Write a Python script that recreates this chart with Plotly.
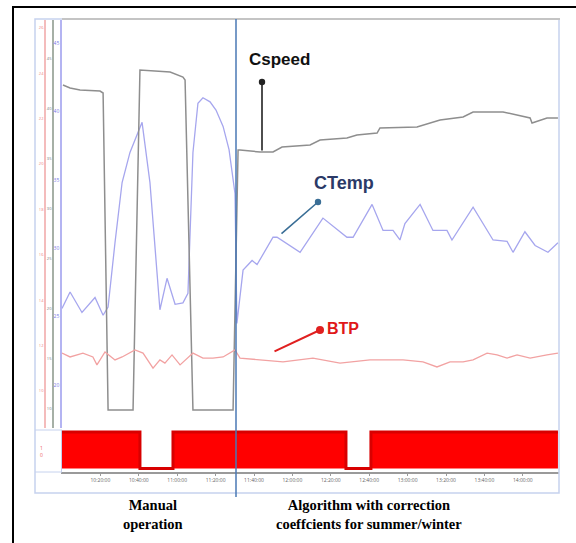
import plotly.graph_objects as go

# ---------------- data (time in minutes from start) ----------------
cspeed_t = [0.5, 4.2, 9.4, 19.8, 21.4, 24.0, 37.0, 40.6, 56.3, 59.9, 63.0, 64.1, 68.2, 89.1,
            91.7, 92.7, 103.1, 109.9, 114.6, 129.2, 134.4, 148.4, 153.6, 164.1, 165.6, 184.9,
            196.9, 208.9, 214.1, 229.7, 238.5, 243.8, 244.8, 252.6, 258.3]
cspeed_v = [42.4, 42.1, 41.9, 41.8, 41.6, 9.9, 9.9, 43.9, 43.7, 43.4, 43.2, 42.9, 9.9, 9.9,
            35.9, 35.9, 35.7, 35.7, 36.2, 36.4, 36.9, 37.1, 37.4, 37.6, 38.1, 38.2,
            38.9, 39.2, 39.7, 39.7, 39.3, 39.1, 38.6, 39.1, 39.1]

ctemp_t = [0, 4.2, 10.4, 13.0, 17.2, 21.4, 24.0, 27.6, 31.3, 35.4, 41.7, 45.8, 51.0, 54.7,
           58.9, 63.0, 65.6, 68.2, 70.8, 73.4, 77.1, 80.2, 83.9, 87.0, 90.1, 91.1, 94.3, 99.0,
           101.6, 109.9, 112.0, 124.0, 135.9, 148.4, 151.6, 161.5, 167.2, 172.4, 176.0,
           178.6, 186.5, 193.2, 200.5, 203.1, 214.1, 224.5, 231.8, 234.9, 241.1, 246.4,
           253.1, 258.3]
ctemp_v = [25.6, 26.8, 25.3, 25.7, 26.4, 25.1, 25.7, 30.4, 34.8, 37.0, 39.2, 34.8, 25.5, 27.8,
           25.9, 26.0, 26.7, 37.0, 40.6, 41.0, 40.7, 40.1, 38.9, 37.2, 34.0, 24.5, 28.4, 29.1,
           28.8, 30.8, 30.8, 29.7, 32.2, 30.8, 30.8, 33.2, 31.3, 31.3, 30.6,
           31.8, 33.2, 31.3, 31.3, 30.6, 33.0, 30.6, 30.5, 29.7, 31.2, 30.2,
           29.7, 30.4]

btp_t = [0, 4.2, 10.9, 16.1, 18.2, 22.4, 27.6, 31.3, 38.0, 42.2, 47.4, 51.0, 53.6, 57.3, 61.5,
         68.2, 73.4, 78.6, 83.9, 90.1, 92.7, 104.7, 115.1, 130.7, 144.8, 160.4, 177.6, 188.0,
         195.3, 202.1, 208.9, 214.1, 221.4, 226.6, 231.8, 237.0, 243.8, 252.6, 258.3]
btp_v = [11.67, 11.50, 11.67, 11.50, 11.15, 11.72, 11.37, 11.50, 11.81, 11.67, 11.01, 11.37,
         11.23, 11.59, 11.15, 11.67, 11.45, 11.45, 11.50, 11.81, 11.45, 11.37, 11.28, 11.45,
         11.23, 11.37, 11.37, 11.28, 11.06, 11.28, 11.28, 11.37, 11.67, 11.59, 11.45, 11.59,
         11.45, 11.59, 11.67]

status_t = [0, 40.6, 57.8, 147.9, 160.9, 258.3]
status_v = [1, 0, 1, 0, 1, 1]

tick_minutes = [20, 40, 60, 80, 100, 120, 140, 160, 180, 200, 220, 240]
tick_labels = ["10:20:00", "10:40:00", "11:00:00", "11:20:00", "11:40:00", "12:00:00",
               "12:20:00", "12:40:00", "13:00:00", "13:20:00", "13:40:00", "14:00:00"]

ctemp_ticks = [20, 25, 30, 35, 40, 45]
cspeed_ticks = [10, 15, 20, 25, 30, 35, 40, 45]
btp_ticks = [10, 12, 14, 16, 18, 20, 22, 24, 26]

# ---------------- layout helpers ----------------
W, H = 576, 543
def px(x):
    return x / W
def py(y):
    return 1 - y / H

fig = go.Figure()

fig.add_trace(go.Scatter(x=btp_t, y=btp_v, mode="lines", yaxis="y3",
                         line=dict(color="#f2a2a2", width=1.3), name="BTP"))
fig.add_trace(go.Scatter(x=cspeed_t, y=cspeed_v, mode="lines", yaxis="y2",
                         line=dict(color="#8e8e8e", width=1.5), name="Cspeed"))
fig.add_trace(go.Scatter(x=ctemp_t, y=ctemp_v, mode="lines", yaxis="y",
                         line=dict(color="#a6a6ee", width=1.3), name="CTemp"))
fig.add_trace(go.Scatter(x=status_t, y=status_v, mode="lines", yaxis="y4",
                         line=dict(color="#d80000", width=3, shape="hv"),
                         fill="tozeroy", fillcolor="#ff0000", name="status"))

main_dom = [py(428), py(20)]
bot_dom = [py(472), py(430)]

fig.update_layout(
    width=W, height=H,
    margin=dict(l=0, r=0, t=0, b=0),
    paper_bgcolor="white", plot_bgcolor="white",
    showlegend=False,
    xaxis=dict(domain=[px(62), px(559)], range=[0, 258.85], anchor="y4",
               showgrid=False, zeroline=False, showline=True, linecolor="#9a9a9a",
               linewidth=1.5, ticks="outside", ticklen=2, tickcolor="#9a9a9a",
               tickvals=tick_minutes, ticktext=tick_labels,
               tickfont=dict(size=5, color="#666666")),
    yaxis=dict(domain=main_dom, range=[16.857, 46.681], showgrid=False, zeroline=False,
               showline=True, linecolor="#b4b4f2", linewidth=1.5,
               tickvals=ctemp_ticks, tickfont=dict(size=5, color="#7a7ae6"), ticks=""),
    yaxis2=dict(domain=main_dom, range=[8.1, 48.9], overlaying="y", anchor="free",
                position=px(53), showgrid=False, zeroline=False, showline=True,
                linecolor="#a6b0a6", linewidth=1.5, tickvals=cspeed_ticks,
                tickfont=dict(size=4, color="#777777"), ticks=""),
    yaxis3=dict(domain=main_dom, range=[8.370, 26.344], overlaying="y", anchor="free",
                position=px(45), showgrid=False, zeroline=False, showline=True,
                linecolor="#f4bcbc", linewidth=1.5, tickvals=btp_ticks,
                tickfont=dict(size=4, color="#ee8080"), ticks=""),
    yaxis4=dict(domain=bot_dom, range=[-0.096, 1.055], showgrid=False, zeroline=False,
                showline=True, linecolor="#c4cdec", linewidth=1, showticklabels=False,
                ticks=""),
)

shapes = [
    # outer black border (left and top)
    dict(type="line", xref="paper", yref="paper", x0=px(13), x1=px(13), y0=py(545), y1=py(6),
         line=dict(color="black", width=2)),
    dict(type="line", xref="paper", yref="paper", x0=px(12), x1=px(576), y0=py(7), y1=py(7),
         line=dict(color="black", width=2)),
    # light blue frame
    dict(type="rect", xref="paper", yref="paper", x0=px(35), x1=px(559), y0=py(493), y1=py(19),
         line=dict(color="#c6d2ee", width=1.5)),
    # top gray line of the chart
    dict(type="line", xref="paper", yref="paper", x0=px(62), x1=px(560), y0=py(19), y1=py(19),
         line=dict(color="#c4c4c4", width=2)),
    # separator left of lower panel
    dict(type="line", xref="paper", yref="paper", x0=px(35), x1=px(62), y0=py(430), y1=py(430),
         line=dict(color="#c6d2ee", width=1)),
    dict(type="line", xref="paper", yref="paper", x0=px(35), x1=px(62), y0=py(472), y1=py(472),
         line=dict(color="#c6d2ee", width=1)),
    # divider between manual and algorithm phases
    dict(type="line", xref="paper", yref="paper", x0=px(236), x1=px(236), y0=py(497), y1=py(19),
         line=dict(color="#4a78b4", width=1.5)),
]
fig.update_layout(shapes=shapes)

C = dict(xref="paper", yref="paper", xanchor="center", yanchor="middle")
ann = [
    dict(text="<b>Cspeed</b>", x=px(279), y=py(59), showarrow=False,
         font=dict(family="Liberation Sans", size=17, color="#111111"), **C),
    dict(text="<b>CTemp</b>", x=px(344), y=py(183), showarrow=False,
         font=dict(family="Liberation Sans", size=18, color="#2b3a67"), **C),
    dict(text="<b>BTP</b>", x=px(343), y=py(328), showarrow=False,
         font=dict(family="Liberation Sans", size=16, color="#e01818"), **C),
    dict(text="", x=px(262), y=py(82), showarrow=True,
         ax=0, ay=70, arrowhead=6, arrowsize=1, arrowwidth=1.6, arrowcolor="#222222", **C),
    dict(text="", x=px(318), y=py(202), showarrow=True,
         ax=-38, ay=33, arrowhead=6, arrowsize=1, arrowwidth=1.6, arrowcolor="#3a6e96", **C),
    dict(text="", x=px(320), y=py(330), showarrow=True,
         ax=-47, ay=22, arrowhead=6, arrowsize=1, arrowwidth=2, arrowcolor="#e02020", **C),
    dict(text="1<br>0", x=px(41), y=py(451), showarrow=False,
         font=dict(size=5, color="#ee6060"), **C),
    dict(text="<b>Manual<br>operation</b>", x=px(153), y=py(514), showarrow=False,
         font=dict(family="Liberation Serif", size=14.5, color="black"), **C),
    dict(text="<b>Algorithm with correction<br>coeffcients for summer/winter</b>",
         x=px(369), y=py(514), showarrow=False,
         font=dict(family="Liberation Serif", size=14.5, color="black"), **C),
]
fig.update_layout(annotations=ann)

fig.write_html("out.html", config={"displayModeBar": False},
               post_script="document.body.style.margin='0';")
